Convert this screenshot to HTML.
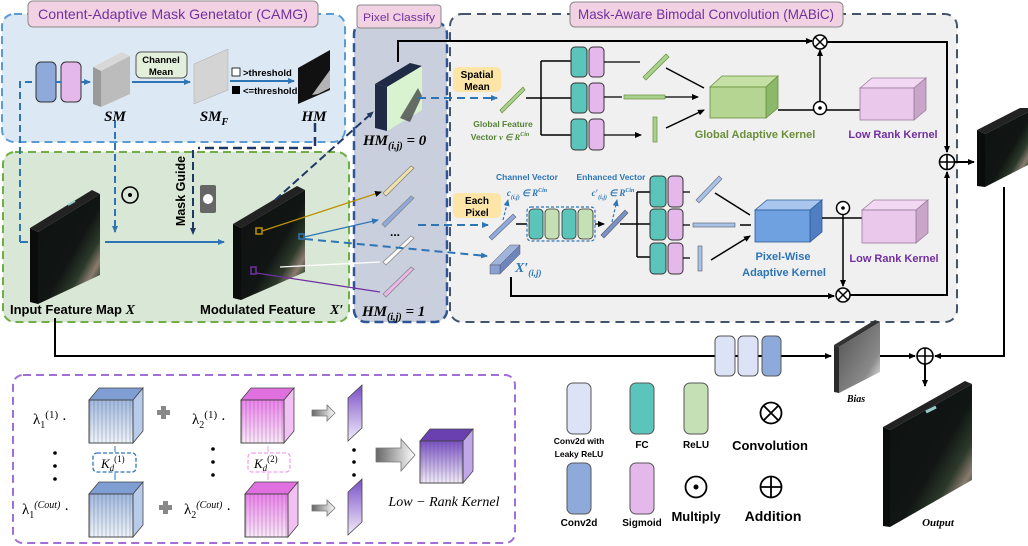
<!DOCTYPE html>
<html><head><meta charset="utf-8"><style>
html,body{margin:0;padding:0;background:#fff;}
svg{display:block;font-family:"Liberation Sans",sans-serif;}
.t{font-family:"Liberation Sans",sans-serif;font-weight:bold;}
.s{font-family:"Liberation Serif",serif;font-style:italic;font-weight:bold;}
.c{font-family:"Liberation Sans",sans-serif;}
</style></head><body>
<svg width="1028" height="546" viewBox="0 0 1028 546" xmlns="http://www.w3.org/2000/svg">
<defs>
<marker id="ab" markerWidth="8" markerHeight="8" refX="6" refY="3" orient="auto" markerUnits="userSpaceOnUse"><path d="M0,0 L7,3 L0,6 z" fill="#000"/></marker>
<marker id="abl" markerWidth="8" markerHeight="8" refX="6" refY="3" orient="auto" markerUnits="userSpaceOnUse"><path d="M0,0 L7,3 L0,6 z" fill="#2e75b6"/></marker>
<marker id="adb" markerWidth="8" markerHeight="8" refX="6" refY="3" orient="auto" markerUnits="userSpaceOnUse"><path d="M0,0 L7,3 L0,6 z" fill="#1f3864"/></marker>
<linearGradient id="img" x1="0" y1="0" x2="1" y2="1">
<stop offset="0" stop-color="#0e1110"/><stop offset="0.55" stop-color="#111614"/><stop offset="0.7" stop-color="#2c3a2a"/><stop offset="0.8" stop-color="#8a7c70"/><stop offset="0.88" stop-color="#3a4a35"/><stop offset="1" stop-color="#1b2419"/></linearGradient>
<linearGradient id="gimg" x1="0" y1="0" x2="1" y2="1"><stop offset="0" stop-color="#505050"/><stop offset="0.7" stop-color="#8a8a8a"/><stop offset="0.85" stop-color="#c8c8c8"/><stop offset="1" stop-color="#777"/></linearGradient>
<linearGradient id="bc" x1="0" y1="0" x2="0" y2="1"><stop offset="0" stop-color="#9fb8e0"/><stop offset="1" stop-color="#eef3fb"/></linearGradient>
<linearGradient id="pc" x1="0" y1="0" x2="0" y2="1"><stop offset="0" stop-color="#ee80ee"/><stop offset="1" stop-color="#fbe8fb"/></linearGradient>
<linearGradient id="vc" x1="0" y1="0" x2="0" y2="1"><stop offset="0" stop-color="#7a50c8"/><stop offset="1" stop-color="#f2ecfa"/></linearGradient>
<linearGradient id="ga" x1="0" y1="0" x2="1" y2="0"><stop offset="0" stop-color="#666"/><stop offset="1" stop-color="#fff"/></linearGradient>
<pattern id="vl" width="4" height="10" patternUnits="userSpaceOnUse"><path d="M2,0 V10" stroke="#555" stroke-width="0.5" opacity="0.6"/></pattern>
</defs>

<!-- CAMG region -->
<rect x="2" y="14" width="343" height="128" rx="12" fill="#dde8f5" stroke="#5b9bd5" stroke-width="2" stroke-dasharray="8,5"/>
<rect x="28" y="1" width="290" height="26" rx="5" fill="#f2d2e2" stroke="#888" stroke-width="1"/>
<text x="173" y="19" text-anchor="middle" font-size="14" fill="#7030a0" class="c" textLength="270" lengthAdjust="spacingAndGlyphs">Content-Adaptive Mask Genetator (CAMG)</text>

<!-- green region -->
<rect x="3" y="152" width="346" height="170" rx="12" fill="#d9e8d6" stroke="#70ad47" stroke-width="2" stroke-dasharray="8,5"/>

<!-- Pixel classify -->
<rect x="354" y="22" width="93" height="300" rx="12" fill="#c9cfdc" stroke="#2f5597" stroke-width="2.5" stroke-dasharray="9,5"/>
<rect x="357" y="5" width="84" height="23" rx="3" fill="#f2d2e2" stroke="#888"/>
<text x="399" y="21" text-anchor="middle" font-size="11" fill="#7030a0" class="c" textLength="72" lengthAdjust="spacingAndGlyphs">Pixel Classify</text>

<!-- MABiC -->
<rect x="450" y="14" width="507" height="308" rx="12" fill="#f0f0f0" stroke="#44546a" stroke-width="2" stroke-dasharray="9,6"/>
<rect x="570" y="2" width="273" height="25" rx="5" fill="#f2d2e2" stroke="#888"/>
<text x="706" y="19" text-anchor="middle" font-size="14" fill="#7030a0" class="c" textLength="256" lengthAdjust="spacingAndGlyphs">Mask-Aware Bimodal Convolution (MABiC)</text>

<!-- CAMG content -->
<path d="M20,242 V82 H34" fill="none" stroke="#2e75b6" stroke-width="2" stroke-dasharray="7,4"/>
<path d="M20,242 H28" stroke="#2e75b6" stroke-width="2"/>
<rect x="36" y="62" width="20" height="40" rx="5" fill="#8eaadb" stroke="#333"/>
<rect x="61" y="62" width="20" height="40" rx="5" fill="#e4b8ea" stroke="#333"/>
<path d="M56,82 H61 M81,82 H90" stroke="#2e75b6" stroke-width="2" marker-end="url(#abl)"/>
<polygon points="93,67 122,52 130,56 101,71" fill="#d8d8d8"/>
<polygon points="101,71 130,56 130,94 101,107" fill="#bcbcbc"/>
<polygon points="93,67 101,71 101,107 93,104" fill="#9a9a9a"/>
<text x="115" y="121" text-anchor="middle" font-size="15" class="s">SM</text>
<rect x="136" y="52" width="51" height="26" rx="5" fill="#e2efda" stroke="#555"/>
<text x="161" y="63" text-anchor="middle" font-size="9.5" class="t">Channel</text>
<text x="161" y="75" text-anchor="middle" font-size="9.5" class="t">Mean</text>
<path d="M132,82 H190" stroke="#2e75b6" stroke-width="2" marker-end="url(#abl)"/>
<polygon points="194,64 228,49 228,90 194,104" fill="#d4d4d4" stroke="#aaa" stroke-width="0.5"/>
<text x="214" y="121" text-anchor="middle" font-size="15" class="s">SM<tspan font-size="10" dy="4">F</tspan></text>
<rect x="232" y="68" width="8" height="8" fill="#fff" stroke="#000" stroke-width="0.8"/>
<text x="243" y="76" font-size="9.5" class="t">&gt;threshold</text>
<path d="M230,81 H294" stroke="#2e75b6" stroke-width="2" marker-end="url(#abl)"/>
<rect x="232" y="86" width="8" height="8" fill="#000"/>
<text x="243" y="94" font-size="9.5" class="t">&lt;=threshold</text>
<polygon points="298,68 330,50 330,90 298,104" fill="#111"/>
<polygon points="312,95 330,70 330,88 318,94" fill="#ddd" opacity="0.8"/>
<text x="314" y="121" text-anchor="middle" font-size="15" class="s">HM</text>

<path d="M115,121 V232" stroke="#2e75b6" stroke-width="2" stroke-dasharray="7,4" marker-end="url(#abl)"/>
<circle cx="130" cy="195" r="8" fill="none" stroke="#000" stroke-width="1.6"/><circle cx="130" cy="195" r="2" fill="#000"/>
<path d="M315,123 V148 H198" fill="none" stroke="#1f3864" stroke-width="2.5" stroke-dasharray="9,5"/>
<path d="M193,150 V234" stroke="#1f3864" stroke-width="2" stroke-dasharray="8,4" marker-end="url(#adb)"/>
<text x="185" y="191" transform="rotate(-90 185 191)" text-anchor="middle" font-size="12.5" class="t">Mask Guide</text>
<rect x="200" y="185" width="16" height="28" rx="2" fill="#666"/><circle cx="208" cy="199" r="5" fill="#fff"/>

<!-- input feature map -->
<polygon points="30,228 92,190 100,194 38,232" fill="#222"/>
<polygon points="30,228 38,232 38,304 30,302" fill="#0a0c0b"/>
<polygon points="38,232 100,194 100,275 38,304" fill="url(#img)"/>
<path d="M68,205 L75,201" stroke="#9cc" stroke-width="2"/>
<text x="10" y="314" font-size="13" class="t">Input Feature Map <tspan class="s" font-size="14">X</tspan></text>
<path d="M105,242 H224" stroke="#2e75b6" stroke-width="2" marker-end="url(#abl)"/>

<!-- modulated -->
<polygon points="233,224 297,186 305,190 241,228" fill="#222"/>
<polygon points="233,224 241,228 241,300 233,298" fill="#0a0c0b"/>
<polygon points="241,228 305,190 305,272 241,300" fill="url(#img)"/>
<text x="200" y="314" font-size="13" class="t">Modulated Feature</text>
<text x="330" y="314" font-size="14" class="s">X′</text>
<rect x="256" y="228" width="6" height="6" fill="none" stroke="#c09000" stroke-width="1.5"/>
<rect x="299" y="234" width="5" height="5" fill="none" stroke="#2e75b6" stroke-width="1.5"/>
<rect x="251" y="267" width="5" height="7" fill="none" stroke="#7030a0" stroke-width="1.5"/>
<path d="M262,231 L381,192" stroke="#c09000" stroke-width="1.2" marker-end="url(#ab)"/>
<path d="M304,237 L378,220" stroke="#2e75b6" stroke-width="1.2" marker-end="url(#abl)"/>
<path d="M280,267 L380,262" stroke="#fff" stroke-width="1.2"/>
<path d="M256,273 L380,292" stroke="#7030a0" stroke-width="1.2"/>
<path d="M275,200 L373,112" stroke="#1f3864" stroke-width="2" stroke-dasharray="8,4" marker-end="url(#adb)"/>

<!-- HM0 slab -->
<polygon points="375,84 410,63 422,66 387,87" fill="#1f2a44"/>
<polygon points="375,84 387,87 387,131 375,128" fill="#1f2a44"/>
<polygon points="387,87 422,66 422,110 387,131" fill="#d9f2d0"/>
<polygon points="400,118 418,88 422,96 410,122" fill="#333" opacity="0.7"/>
<text x="363" y="145" font-size="15" class="s">HM<tspan font-size="10" dy="4">(i,j)</tspan><tspan dy="-4"> = 0</tspan></text>
<path d="M398,62 V41 H812" fill="none" stroke="#000" stroke-width="2" marker-end="url(#ab)"/>

<!-- bars in pixel column -->
<g stroke="#888" stroke-width="0.8">
<polygon points="383,193 411,166 414,168 386,196" fill="#f0e2a8"/>
<polygon points="382,224 411,196 414,198 385,227" fill="#8faadc"/>
<polygon points="383,262 411,236 414,238 386,265" fill="#fafafa"/>
<polygon points="383,294 411,267 414,269 386,297" fill="#e8b8ea"/>
</g>
<text x="395" y="236" text-anchor="middle" font-size="12" class="t">...</text>
<text x="362" y="316" font-size="15" class="s">HM<tspan font-size="10" dy="4">(i,j)</tspan><tspan dy="-4"> = 1</tspan></text>

<!-- dashed blue arrows into MABiC -->
<path d="M418,98 H497" stroke="#2e75b6" stroke-width="2" stroke-dasharray="8,5" marker-end="url(#abl)"/>
<path d="M418,225 H488" stroke="#2e75b6" stroke-width="2" stroke-dasharray="8,5" marker-end="url(#abl)"/>
<path d="M305,239 L487,256" stroke="#2e75b6" stroke-width="2" stroke-dasharray="8,5" marker-end="url(#abl)"/>

<!-- upper branch -->
<rect x="453" y="67" width="48" height="25" rx="5" fill="#fde5a7"/>
<text x="477" y="78" text-anchor="middle" font-size="10" class="t">Spatial</text>
<text x="477" y="90" text-anchor="middle" font-size="10" class="t">Mean</text>
<polygon points="500,110 523,87 525,90 502,113" fill="#a9d18e" stroke="#6a8f3a" stroke-width="0.7"/>
<text x="503" y="127" text-anchor="middle" font-size="8.5" class="t" fill="#548235">Global Feature</text>
<text x="500" y="140" text-anchor="middle" font-size="8.5" class="t" fill="#548235">Vector <tspan class="s">v ∈ R</tspan><tspan font-size="6" dy="-4" class="s">Cin</tspan></text>
<path d="M526,98 H541 M541,61 V135 M541,61 H571 M541,98 H571 M541,135 H571" fill="none" stroke="#000" stroke-width="1.5"/>
<g stroke="#333" stroke-width="1">
<rect x="571" y="47" width="16" height="30" rx="4" fill="#5bc5bb"/><rect x="589" y="47" width="15" height="30" rx="4" fill="#e4b8ea"/>
<rect x="571" y="83" width="16" height="30" rx="4" fill="#5bc5bb"/><rect x="589" y="83" width="15" height="30" rx="4" fill="#e4b8ea"/>
<rect x="571" y="119" width="16" height="31" rx="4" fill="#5bc5bb"/><rect x="589" y="119" width="15" height="31" rx="4" fill="#e4b8ea"/>
</g>
<path d="M604,62 H640 M604,97 H622 M604,135 H641" stroke="#000" stroke-width="1.3" marker-end="url(#ab)"/>
<path d="M665,97 H698" stroke="#000" stroke-width="1.3" marker-end="url(#ab)"/>
<polygon points="643,77 666,54 669,57 646,80" fill="#a9d18e" stroke="#6a8f3a" stroke-width="0.7"/>
<rect x="624" y="95" width="41" height="4" fill="#a9d18e" stroke="#6a8f3a" stroke-width="0.7"/>
<rect x="653" y="117" width="4" height="25" fill="#a9d18e" stroke="#6a8f3a" stroke-width="0.7"/>
<path d="M666,68 L704,88 M666,128 L704,110" stroke="#000" stroke-width="1.5" marker-end="url(#ab)"/>
<!-- green cube -->
<polygon points="710,87 722,76 778,76 766,87" fill="#c5e0a5" stroke="#6a8f3a" stroke-width="0.8"/>
<polygon points="766,87 778,76 778,108 766,118" fill="#8cb86a" stroke="#6a8f3a" stroke-width="0.8"/>
<rect x="710" y="87" width="56" height="31" fill="#b5d593" stroke="#6a8f3a" stroke-width="0.8"/>
<text x="755" y="138" text-anchor="middle" font-size="11" class="t" fill="#6a8f3a">Global Adaptive Kernel</text>
<path d="M778,110 H860" stroke="#000" stroke-width="1.5"/>
<circle cx="820" cy="108" r="6.5" fill="#fff" stroke="#000" stroke-width="1.5"/><circle cx="820" cy="108" r="1.8" fill="#000"/>
<path d="M820,101 V50" stroke="#000" stroke-width="1.5" marker-end="url(#ab)"/>
<circle cx="820" cy="42" r="7" fill="#fff" stroke="#000" stroke-width="1.5"/><path d="M815,37 L825,47 M825,37 L815,47" stroke="#000" stroke-width="1.5"/>
<path d="M827,42 H947 V152" fill="none" stroke="#000" stroke-width="2" marker-end="url(#ab)"/>
<!-- low rank cube top -->
<polygon points="860,88 872,78 926,78 914,88" fill="#f3d8f3" stroke="#9a7a9a" stroke-width="0.8"/>
<polygon points="914,88 926,78 926,110 914,120" fill="#c9a6c9" stroke="#9a7a9a" stroke-width="0.8"/>
<rect x="860" y="88" width="54" height="32" fill="#eac8ec" stroke="#9a7a9a" stroke-width="0.8"/>
<text x="893" y="138" text-anchor="middle" font-size="11" class="t" fill="#7030a0">Low Rank Kernel</text>

<!-- lower branch -->
<text x="527" y="180" text-anchor="middle" font-size="8.5" class="t" fill="#2e75b6">Channel Vector</text>
<text x="527" y="196" text-anchor="middle" font-size="9" class="s" fill="#2e75b6" font-weight="normal">c<tspan font-size="6" dy="3">(i,j)</tspan><tspan dy="-3"> ∈ R</tspan><tspan font-size="6" dy="-4">Cin</tspan></text>
<text x="611" y="180" text-anchor="middle" font-size="8.5" class="t" fill="#2e75b6">Enhanced Vector</text>
<text x="613" y="196" text-anchor="middle" font-size="9" class="s" fill="#2e75b6" font-weight="normal">c′<tspan font-size="6" dy="3">(i,j)</tspan><tspan dy="-3"> ∈ R</tspan><tspan font-size="6" dy="-4">Cin</tspan></text>
<rect x="453" y="193" width="48" height="25" rx="5" fill="#fde5a7"/>
<text x="477" y="204" text-anchor="middle" font-size="10" class="t">Each</text>
<text x="477" y="216" text-anchor="middle" font-size="10" class="t">Pixel</text>
<path d="M503,220 L508,200" stroke="#2e75b6" stroke-width="1.2" stroke-dasharray="3,2" marker-end="url(#abl)"/>
<path d="M612,222 L617,200" stroke="#2e75b6" stroke-width="1.2" stroke-dasharray="3,2" marker-end="url(#abl)"/>
<polygon points="489,237 513,214 516,217 492,240" fill="#8faadc" stroke="#667" stroke-width="0.6"/>
<path d="M516,224 H527" stroke="#000" stroke-width="1.5"/>
<rect x="527" y="207" width="68" height="34" rx="4" fill="none" stroke="#2e75b6" stroke-width="1.2" stroke-dasharray="3,2"/>
<g stroke="#333" stroke-width="0.8">
<rect x="529" y="209" width="14" height="30" rx="4" fill="#5bc5bb"/><rect x="545" y="209" width="14" height="30" rx="4" fill="#c5e0b4"/>
<rect x="562" y="209" width="14" height="30" rx="4" fill="#5bc5bb"/><rect x="578" y="209" width="15" height="30" rx="4" fill="#c5e0b4"/>
</g>
<path d="M595,224 H604" stroke="#000" stroke-width="1.3" marker-end="url(#ab)"/>
<polygon points="601,235 625,210 628,213 604,238" fill="#7b93c4" stroke="#556" stroke-width="0.6"/>
<path d="M620,224 H637 M637,192 V257 M637,192 H650 M637,224 H650 M637,257 H650" fill="none" stroke="#000" stroke-width="1.5"/>
<g stroke="#333" stroke-width="1">
<rect x="650" y="176" width="16" height="31" rx="4" fill="#5bc5bb"/><rect x="668" y="176" width="15" height="31" rx="4" fill="#e4b8ea"/>
<rect x="650" y="209" width="16" height="31" rx="4" fill="#5bc5bb"/><rect x="668" y="209" width="15" height="31" rx="4" fill="#e4b8ea"/>
<rect x="650" y="243" width="16" height="31" rx="4" fill="#5bc5bb"/><rect x="668" y="243" width="15" height="31" rx="4" fill="#e4b8ea"/>
</g>
<path d="M683,192 H690 M683,225 H690 M683,258 H690" stroke="#000" stroke-width="1.2"/>
<polygon points="696,200 719,176 722,179 699,203" fill="#a9c2e8" stroke="#667" stroke-width="0.6"/>
<rect x="693" y="223" width="42" height="4" fill="#a9c2e8" stroke="#556" stroke-width="0.6"/>
<rect x="698" y="246" width="4" height="25" fill="#a9c2e8" stroke="#556" stroke-width="0.6"/>
<path d="M715,193 L750,215 M740,225 H751 M711,260 L750,236" stroke="#000" stroke-width="1.5" marker-end="url(#ab)"/>
<!-- blue cube -->
<polygon points="755,210 767,200 822,200 810,210" fill="#a9c6ee" stroke="#2e5b9a" stroke-width="0.8"/>
<polygon points="810,210 822,200 822,232 810,242" fill="#4f7fc0" stroke="#2e5b9a" stroke-width="0.8"/>
<rect x="755" y="210" width="55" height="32" fill="#6fa1e0" stroke="#2e5b9a" stroke-width="0.8"/>
<text x="783" y="260" text-anchor="middle" font-size="11" class="t" fill="#2e75b6">Pixel-Wise</text>
<text x="784" y="276" text-anchor="middle" font-size="11" class="t" fill="#2e75b6">Adaptive Kernel</text>
<path d="M822,218 H862" stroke="#000" stroke-width="1.5"/>
<circle cx="843" cy="208" r="6.5" fill="#fff" stroke="#000" stroke-width="1.5"/><circle cx="843" cy="208" r="1.8" fill="#000"/>
<path d="M843,215 V286" stroke="#000" stroke-width="1.5" marker-end="url(#ab)"/>
<circle cx="843" cy="295" r="7" fill="#fff" stroke="#000" stroke-width="1.5"/><path d="M838,290 L848,300 M848,290 L838,300" stroke="#000" stroke-width="1.5"/>
<polygon points="862,210 874,200 928,200 916,210" fill="#f3d8f3" stroke="#9a7a9a" stroke-width="0.8"/>
<polygon points="916,210 928,200 928,233 916,243" fill="#c9a6c9" stroke="#9a7a9a" stroke-width="0.8"/>
<rect x="862" y="210" width="54" height="33" fill="#eac8ec" stroke="#9a7a9a" stroke-width="0.8"/>
<text x="894" y="262" text-anchor="middle" font-size="11" class="t" fill="#7030a0">Low Rank Kernel</text>
<!-- X'(i,j) -->
<polygon points="490,265 510,245 520,245 500,265" fill="#9fb3db" stroke="#556" stroke-width="0.5"/>
<polygon points="500,265 520,245 520,254 500,274" fill="#6d85bb" stroke="#556" stroke-width="0.5"/>
<rect x="490" y="265" width="10" height="9" fill="#8aa0d0" stroke="#556" stroke-width="0.5"/>
<text x="515" y="272" font-size="14" class="s" fill="#2e75b6">X′<tspan font-size="9" dy="4">(i,j)</tspan></text>
<path d="M511,277 V296 H834" fill="none" stroke="#000" stroke-width="2" marker-end="url(#ab)"/>
<path d="M850,295 H947 V172" fill="none" stroke="#000" stroke-width="2" marker-end="url(#ab)"/>
<circle cx="947" cy="162" r="7.5" fill="#fff" stroke="#000" stroke-width="1.6"/><path d="M939.5,162 H954.5 M947,154.5 V169.5" stroke="#000" stroke-width="1.6"/>
<path d="M955,162 H974" stroke="#000" stroke-width="2" marker-end="url(#ab)"/>
<!-- right image -->
<polygon points="977,130 1020,108 1028,108 1028,112 985,134" fill="#222"/>
<polygon points="977,130 985,134 985,187 977,186" fill="#0a0c0b"/>
<polygon points="985,134 1028,112 1028,165 985,187" fill="url(#img)"/>
<path d="M1004,187 V356 H935" fill="none" stroke="#000" stroke-width="2" marker-end="url(#ab)"/>

<!-- bottom path -->
<path d="M55,318 V356 H831" fill="none" stroke="#000" stroke-width="2" marker-end="url(#ab)"/>
<g stroke="#555" stroke-width="1">
<rect x="715" y="336" width="20" height="40" rx="5" fill="#dde3f7"/>
<rect x="738" y="336" width="20" height="40" rx="5" fill="#dde3f7"/>
<rect x="762" y="336" width="19" height="40" rx="5" fill="#8eaadb"/>
</g>
<polygon points="834,345 875,320 880,322 839,347" fill="#333"/>
<polygon points="834,345 839,347 839,393 834,392" fill="#2a2a2a"/>
<polygon points="839,347 880,322 880,372 839,393" fill="url(#gimg)"/>
<text x="856" y="402" text-anchor="middle" font-size="10" class="s">Bias</text>
<path d="M880,356 H915" stroke="#000" stroke-width="2" marker-end="url(#ab)"/>
<circle cx="925" cy="356" r="8" fill="#fff" stroke="#000" stroke-width="1.6"/><path d="M917,356 H933 M925,348 V364" stroke="#000" stroke-width="1.6"/>
<path d="M925,364 V386" stroke="#000" stroke-width="2" marker-end="url(#ab)"/>
<!-- output -->
<polygon points="883,427 965,381 972,384 890,430" fill="#222"/>
<polygon points="883,427 890,430 890,527 883,526" fill="#0a0c0b"/>
<polygon points="890,430 972,384 972,480 890,527" fill="url(#img)"/>
<path d="M926,412 L936,407" stroke="#9cc" stroke-width="3"/>
<text x="938" y="526" text-anchor="middle" font-size="11" class="s">Output</text>

<!-- legend -->
<g stroke="#555" stroke-width="1">
<rect x="567" y="383" width="24" height="51" rx="6" fill="#dde3f7"/>
<rect x="630" y="383" width="24" height="51" rx="6" fill="#5bc5bb"/>
<rect x="684" y="383" width="24" height="51" rx="6" fill="#c5e0b4"/>
<rect x="567" y="463" width="24" height="51" rx="6" fill="#8eaadb"/>
<rect x="630" y="463" width="24" height="51" rx="6" fill="#e4b8ea"/>
</g>
<text x="579" y="444" text-anchor="middle" font-size="8.5" class="t">Conv2d with</text>
<text x="579" y="457" text-anchor="middle" font-size="8.5" class="t">Leaky ReLU</text>
<text x="642" y="448" text-anchor="middle" font-size="10" class="t">FC</text>
<text x="696" y="448" text-anchor="middle" font-size="10" class="t">ReLU</text>
<text x="579" y="526" text-anchor="middle" font-size="10" class="t">Conv2d</text>
<text x="642" y="526" text-anchor="middle" font-size="10" class="t">Sigmoid</text>
<circle cx="771" cy="413" r="10.5" fill="none" stroke="#000" stroke-width="1.8"/><path d="M763.5,405.5 L778.5,420.5 M778.5,405.5 L763.5,420.5" stroke="#000" stroke-width="1.8"/>
<text x="770" y="450" text-anchor="middle" font-size="13" class="t">Convolution</text>
<circle cx="696" cy="487" r="10.5" fill="none" stroke="#000" stroke-width="1.8"/><circle cx="696" cy="487" r="2.5" fill="#000"/>
<text x="696" y="521" text-anchor="middle" font-size="13" class="t">Multiply</text>
<circle cx="771" cy="487" r="10.5" fill="none" stroke="#000" stroke-width="1.8"/><path d="M760.5,487 H781.5 M771,476.5 V497.5" stroke="#000" stroke-width="1.8"/>
<text x="773" y="521" text-anchor="middle" font-size="14" class="t">Addition</text>

<!-- low rank panel -->
<rect x="13" y="375" width="502" height="168" rx="10" fill="#fff" stroke="#a070d8" stroke-width="2" stroke-dasharray="8,5"/>
<g font-family="Liberation Serif,serif" font-size="15">
<text x="33" y="424">λ<tspan font-size="10" dy="4">1</tspan><tspan font-size="11" dy="-10">(1)</tspan><tspan dy="6"> ·</tspan></text>
<text x="22" y="514">λ<tspan font-size="10" dy="4">1</tspan><tspan font-size="10" dy="-10" font-style="italic">(Cout)</tspan><tspan dy="6"> ·</tspan></text>
<text x="192" y="424">λ<tspan font-size="10" dy="4">2</tspan><tspan font-size="11" dy="-10">(1)</tspan><tspan dy="6"> ·</tspan></text>
<text x="184" y="514">λ<tspan font-size="10" dy="4">2</tspan><tspan font-size="10" dy="-10" font-style="italic">(Cout)</tspan><tspan dy="6"> ·</tspan></text>
</g>
<g fill="#000"><circle cx="55" cy="453" r="1.8"/><circle cx="55" cy="466" r="1.8"/><circle cx="55" cy="479" r="1.8"/>
<circle cx="213" cy="449" r="1.8"/><circle cx="213" cy="462" r="1.8"/><circle cx="213" cy="475" r="1.8"/>
<circle cx="354" cy="450" r="1.8"/><circle cx="354" cy="462" r="1.8"/><circle cx="354" cy="475" r="1.8"/></g>
<!-- cubes -->
<g stroke="#444" stroke-width="0.8">
<polygon points="89,400 99,388 143,388 133,400" fill="#7f9fd4"/><polygon points="133,400 143,388 143,431 133,443" fill="#b9cbea"/><rect x="89" y="400" width="44" height="43" fill="url(#bc)"/><rect x="89" y="400" width="44" height="43" fill="url(#vl)"/>
<polygon points="89,494 99,482 143,482 133,494" fill="#7f9fd4"/><polygon points="133,494 143,482 143,525 133,537" fill="#b9cbea"/><rect x="89" y="494" width="44" height="43" fill="url(#bc)"/><rect x="89" y="494" width="44" height="43" fill="url(#vl)"/>
<polygon points="241,400 251,388 294,388 284,400" fill="#e070e0"/><polygon points="284,400 294,388 294,431 284,443" fill="#f2c0f2"/><rect x="241" y="400" width="43" height="43" fill="url(#pc)"/><rect x="241" y="400" width="43" height="43" fill="url(#vl)"/>
<polygon points="245,494 255,482 298,482 288,494" fill="#e070e0"/><polygon points="288,494 298,482 298,525 288,537" fill="#f2c0f2"/><rect x="245" y="494" width="43" height="43" fill="url(#pc)"/><rect x="245" y="494" width="43" height="43" fill="url(#vl)"/>
<polygon points="420,441 430,429 473,429 463,441" fill="#6a40b0"/><polygon points="463,441 473,429 473,471 463,483" fill="#c0a8e8"/><rect x="420" y="441" width="43" height="42" fill="url(#vc)"/><rect x="420" y="441" width="43" height="42" fill="url(#vl)"/>
<polygon points="348,398 362,385 362,428 348,441" fill="url(#vc)"/>
<polygon points="348,492 362,479 362,522 348,535" fill="url(#vc)"/>
</g>
<rect x="93" y="453" width="43" height="19" rx="4" fill="none" stroke="#2e75b6" stroke-width="1.3" stroke-dasharray="4,2"/>
<text x="101" y="468" font-size="13" font-family="Liberation Serif,serif" font-style="italic">K<tspan font-size="9" dy="3">d</tspan><tspan font-size="9" dy="-9" font-style="normal">(1)</tspan></text>
<rect x="248" y="453" width="42" height="19" rx="4" fill="none" stroke="#f0a0f0" stroke-width="1.3" stroke-dasharray="4,2"/>
<text x="254" y="468" font-size="13" font-family="Liberation Serif,serif" font-style="italic">K<tspan font-size="9" dy="3">d</tspan><tspan font-size="9" dy="-9" font-style="normal">(2)</tspan></text>
<path d="M115,452 V446 M115,473 V480" stroke="#2e75b6" stroke-width="1"/>
<path d="M268,452 V446 M268,473 V480" stroke="#f0a0f0" stroke-width="1"/>
<!-- plus signs -->
<path d="M157,410 h4 v-4 h5 v4 h4 v5 h-4 v4 h-5 v-4 h-4z" fill="#888"/>
<path d="M159,505 h4 v-4 h5 v4 h4 v5 h-4 v4 h-5 v-4 h-4z" fill="#888"/>
<!-- hollow arrows -->
<path d="M312,410 h15 v-5 l8,8 l-8,8 v-5 h-15z" fill="url(#ga)" stroke="#777" stroke-width="0.8"/>
<path d="M312,505 h15 v-5 l8,8 l-8,8 v-5 h-15z" fill="url(#ga)" stroke="#777" stroke-width="0.8"/>
<path d="M376,448 h25 v-9 l14,16 l-14,16 v-9 h-25z" fill="url(#ga)" stroke="#777" stroke-width="0.8"/>
<text x="444" y="506" text-anchor="middle" font-size="14" font-family="Liberation Serif,serif" font-style="italic">Low − Rank Kernel</text>
</svg>
</body></html>
